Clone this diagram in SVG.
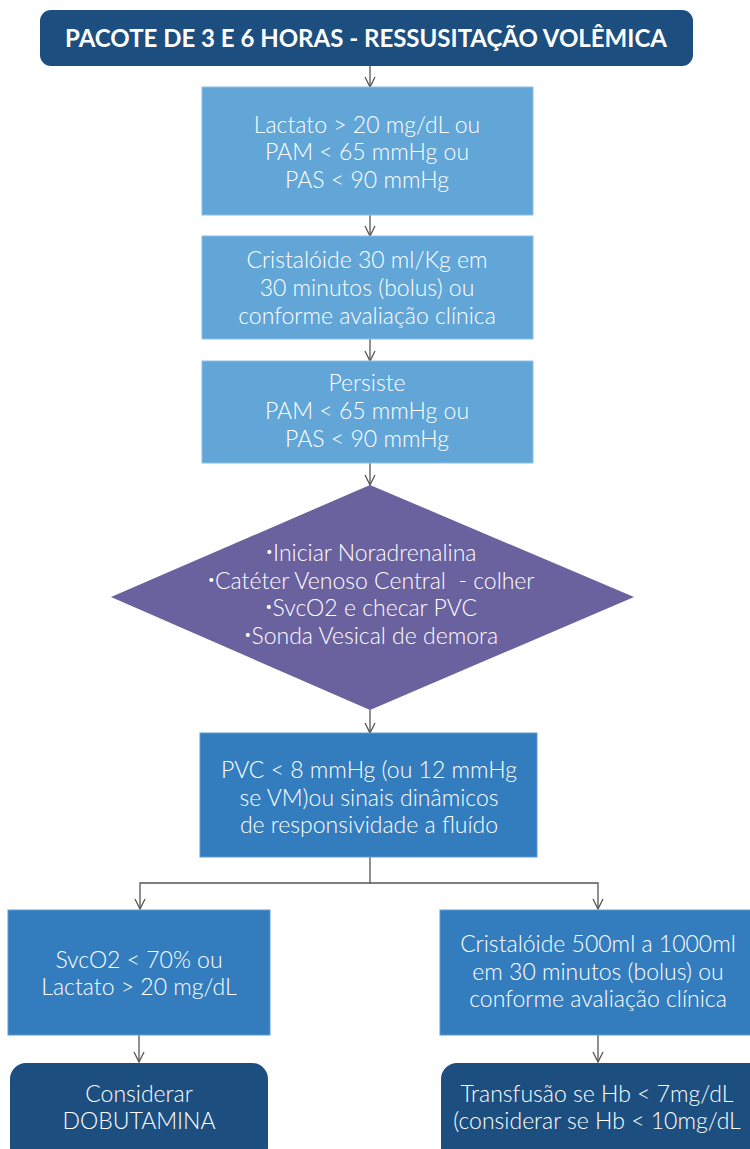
<svg xmlns="http://www.w3.org/2000/svg" width="750" height="1149" viewBox="0 0 750 1149">
<style>
.dark{fill:#1c4f80}
.light{fill:#62a6d8;stroke:#8cc0e6;stroke-width:1}
.mid{fill:#337dbe;stroke:#5c9bd3;stroke-width:1}
.dia{fill:#6a619f}
.t{font-family:Lato,"Liberation Sans",sans-serif;font-size:23px;font-weight:300;fill:#fff;text-anchor:middle;white-space:pre}
.b{font-size:13px}
.title{font-family:Lato,"Liberation Sans",sans-serif;font-size:24px;font-weight:700;fill:#fff;text-anchor:middle}
.c{fill:none;stroke:#555;stroke-width:1.3}
</style>
<defs>
<marker id="a" viewBox="0 0 12 12" refX="11" refY="6" markerWidth="12" markerHeight="12" markerUnits="userSpaceOnUse" orient="auto">
<path d="M1,1 L11,6 L1,11" fill="none" stroke="#555" stroke-width="1.3"/>
</marker>
</defs>
<rect width="750" height="1149" fill="#fff"/>
<g id="connectors">
<line class="c" x1="370" y1="66" x2="370" y2="87" marker-end="url(#a)"/>
<line class="c" x1="370" y1="215" x2="370" y2="236" marker-end="url(#a)"/>
<line class="c" x1="370" y1="339" x2="370" y2="361" marker-end="url(#a)"/>
<line class="c" x1="370" y1="463" x2="370" y2="485" marker-end="url(#a)"/>
<line class="c" x1="370" y1="710" x2="370" y2="733" marker-end="url(#a)"/>
<path class="c" d="M370,857 V883 H140 V909" marker-end="url(#a)"/>
<path class="c" d="M370,883 H598 V909" marker-end="url(#a)"/>
<line class="c" x1="139" y1="1035" x2="139" y2="1062" marker-end="url(#a)"/>
<line class="c" x1="598" y1="1035" x2="598" y2="1062" marker-end="url(#a)"/>
</g>
<g id="title">
<rect class="dark" x="40" y="10" width="653" height="56" rx="11"/>
<text class="title" x="366" y="47">PACOTE DE 3 E 6 HORAS - RESSUSITAÇÃO VOLÊMICA</text>
</g>
<g id="n1">
<rect class="light" x="202" y="87" width="331" height="128"/>
<text class="t" x="367" y="133">Lactato &gt; 20 mg/dL ou</text>
<text class="t" x="367" y="160">PAM &lt; 65 mmHg ou</text>
<text class="t" x="367" y="188">PAS &lt; 90 mmHg</text>
</g>
<g id="n2">
<rect class="light" x="202" y="236" width="331" height="103"/>
<text class="t" x="367" y="268">Cristalóide 30 ml/Kg em</text>
<text class="t" x="367" y="296">30 minutos (bolus) ou</text>
<text class="t" x="367" y="324">conforme avaliação clínica</text>
</g>
<g id="n3">
<rect class="light" x="202" y="361" width="331" height="102"/>
<text class="t" x="367" y="391">Persiste</text>
<text class="t" x="367" y="419">PAM &lt; 65 mmHg ou</text>
<text class="t" x="367" y="447">PAS &lt; 90 mmHg</text>
</g>
<g id="n4">
<polygon class="dia" points="370,485 634,597 370,710 111,597"/>
<text class="t" x="371" y="561"><tspan class="b" dy="-5">•</tspan><tspan dy="5">Iniciar Noradrenalina</tspan></text>
<text class="t" x="371" y="589"><tspan class="b" dy="-5">•</tspan><tspan dy="5">Catéter Venoso Central  - colher</tspan></text>
<text class="t" x="371" y="616"><tspan class="b" dy="-5">•</tspan><tspan dy="5">SvcO2 e checar PVC</tspan></text>
<text class="t" x="371" y="644"><tspan class="b" dy="-5">•</tspan><tspan dy="5">Sonda Vesical de demora</tspan></text>
</g>
<g id="n5">
<rect class="mid" x="200" y="733" width="337" height="124"/>
<text class="t" x="369" y="778">PVC &lt; 8 mmHg (ou 12 mmHg</text>
<text class="t" x="369" y="806">se VM)ou sinais dinâmicos</text>
<text class="t" x="369" y="833">de responsividade a fluído</text>
</g>
<g id="n6">
<rect class="mid" x="8" y="910" width="262" height="125"/>
<text class="t" x="139" y="968">SvcO2 &lt; 70% ou</text>
<text class="t" x="139" y="995">Lactato &gt; 20 mg/dL</text>
</g>
<g id="n7">
<rect class="mid" x="440" y="910" width="320" height="125"/>
<text class="t" x="598" y="952">Cristalóide 500ml a 1000ml</text>
<text class="t" x="598" y="980">em 30 minutos (bolus) ou</text>
<text class="t" x="598" y="1007">conforme avaliação clínica</text>
</g>
<g id="n8">
<rect class="dark" x="10" y="1063" width="258" height="100" rx="16"/>
<text class="t" x="139" y="1102">Considerar</text>
<text class="t" x="139" y="1129">DOBUTAMINA</text>
</g>
<g id="n9">
<rect class="dark" x="441" y="1063" width="330" height="100" rx="16"/>
<text class="t" x="597" y="1102">Transfusão se Hb &lt; 7mg/dL</text>
<text class="t" x="597" y="1129">(considerar se Hb &lt; 10mg/dL</text>
</g>
</svg>
